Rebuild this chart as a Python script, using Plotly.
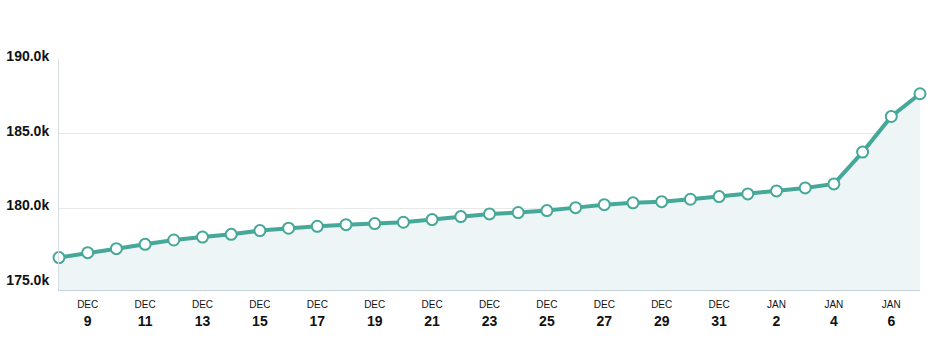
import plotly.graph_objects as go
import pandas as pd

dates = pd.date_range("2013-12-08", "2014-01-07", freq="D")
values = [176690, 177020, 177290, 177580, 177870, 178070, 178250, 178500, 178660, 178790,
          178900, 178970, 179060, 179240, 179440, 179620, 179710, 179840, 180040, 180240,
          180360, 180440, 180600, 180780, 180960, 181160, 181360, 181630, 183760, 186150, 187670]

y_ticks = [175000, 180000, 185000, 190000]
y_labels = ["175.0k", "180.0k", "185.0k", "190.0k"]

x_ticks = pd.date_range("2013-12-09", "2014-01-06", freq="2D")
x_labels = ["<span style='font-size:10px'>%s</span><br><b>%d</b>" % (d.strftime("%b").upper(), d.day) for d in x_ticks]

teal = "#46a899"

fig = go.Figure()
fig.add_trace(go.Scatter(
    x=dates, y=values, mode="lines+markers",
    line=dict(color=teal, width=4),
    marker=dict(size=11, color="white", line=dict(color=teal, width=2)),
    fill="tozeroy", fillcolor="#edf5f7",
    cliponaxis=False, hoverinfo="x+y",
))

fig.update_layout(
    width=940, height=350,
    margin=dict(l=59, r=20, t=59, b=60),
    paper_bgcolor="white", plot_bgcolor="white",
    showlegend=False,
    font=dict(family="Liberation Sans, Arial, sans-serif", color="#111111"),
)
fig.update_xaxes(
    range=[dates[0], dates[-1]],
    tickvals=list(x_ticks), ticktext=x_labels,
    tickfont=dict(size=14, color="#111111"),
    showgrid=False, showline=True, linecolor="#c8d4dc", linewidth=1,
    ticks="", zeroline=False, automargin=False,
)
fig.update_yaxes(
    range=[174520, 190000],
    tickvals=y_ticks, ticktext=["<b>%s</b>" % t for t in y_labels],
    tickfont=dict(size=14, color="#111111"),
    showgrid=True, gridcolor="#e8e8e8", gridwidth=1,
    showline=True, linecolor="#d6dde2", linewidth=1,
    ticks="", ticklabelstandoff=6, ticklabelshift=-3, zeroline=False, automargin=False,
)

fig.write_html("out.html")
